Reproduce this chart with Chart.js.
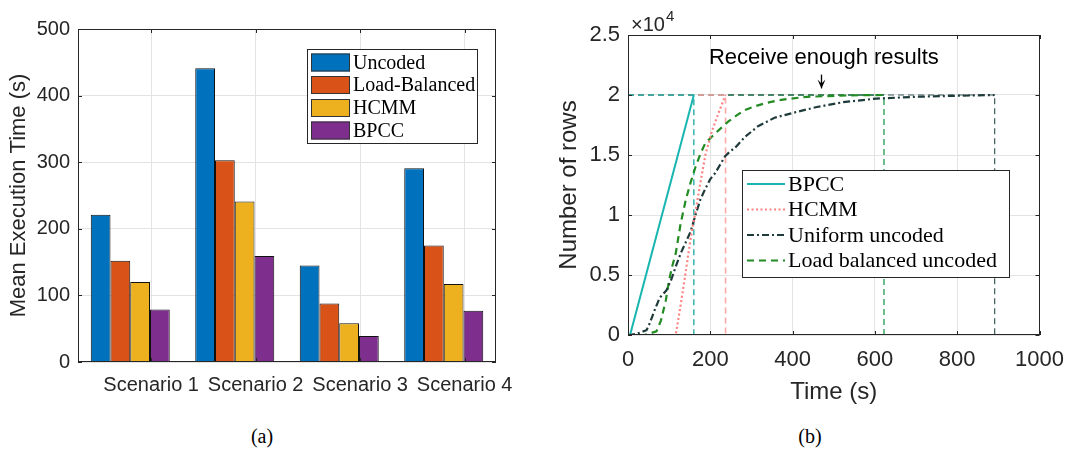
<!DOCTYPE html>
<html>
<head>
<meta charset="utf-8">
<script src="https://cdn.jsdelivr.net/npm/chart.js@4.4.0/dist/chart.umd.min.js"></script>
<style>
    body { margin: 0; background: #fff; }
    #wrap { position: relative; width: 1076px; height: 455px; overflow: hidden; }
    #barCanvas { position: absolute; left: 0; top: 0; }
    #rowCanvas { position: absolute; left: 540px; top: 0; }
    .caption { position: absolute; top: 425px; font: 20px "Liberation Serif", "Times New Roman", serif; color: #000; transform: translateX(-50%); }
</style>
</head>
<body>
<div id="wrap">
    <canvas id="barCanvas" width="540" height="420"></canvas>
    <canvas id="rowCanvas" width="536" height="420"></canvas>
    <div class="caption" style="left:262px">(a)</div>
    <div class="caption" style="left:810px">(b)</div>
</div>
<script>
// (a) mean execution time per scenario
const scenarioLabels = ['Scenario 1', 'Scenario 2', 'Scenario 3', 'Scenario 4'];
const scenarioTickPos = [1.2, 2.2, 3.2, 4.2];
const barNames = ['Uncoded', 'Load-Balanced', 'HCMM', 'BPCC'];
const uncodedTime = [221, 441, 145, 291];
const loadBalancedTime = [152, 303, 88, 175];
const hcmmTime = [120, 241, 58, 117];
const bpccTime = [79, 159, 39, 77];
const barColors = ['#0072BD', '#D95319', '#EDB120', '#7E2F8E'];

// (b) received rows over time
const lineNames = ['BPCC', 'HCMM', 'Uniform uncoded', 'Load balanced uncoded'];
const bpccT = [5, 160];
const bpccRows = [0, 20000];
const hcmmT = [0, 116, 128, 140, 152, 164, 176, 188, 204, 220, 237];
const hcmmRows = [0, 0, 2500, 5200, 8000, 10300, 12700, 15000, 17000, 18500, 20000];
const uniformT = [0, 21, 45, 53, 65, 77, 93, 105, 116, 128, 140, 152, 164, 176, 188, 200, 212, 224, 236, 248, 260, 284, 316, 356, 411, 459, 523, 603, 699, 778, 891];
const uniformRows = [0, 100, 400, 1000, 2100, 3100, 3700, 4600, 5700, 6800, 7700, 8600, 10000, 11300, 12200, 13000, 13500, 14200, 14900, 15300, 15600, 16500, 17400, 18100, 18600, 19000, 19400, 19700, 19850, 19920, 20000];
const loadT = [0, 40, 69, 80, 92, 100, 108, 116, 128, 140, 152, 164, 176, 188, 200, 212, 228, 244, 264, 284, 308, 332, 364, 396, 435, 475, 540, 622];
const loadRows = [0, 0, 300, 1200, 2900, 4600, 5800, 6800, 9300, 11200, 12700, 14000, 15100, 16000, 16400, 16800, 17300, 17800, 18300, 18750, 19050, 19300, 19550, 19700, 19850, 19900, 19970, 20000];
const finishT = [160, 237, 891, 622];
const targetRows = 20000;
const timeTicks = [0, 200, 400, 600, 800, 1000];
const rowTicks = [0, 5000, 10000, 15000, 20000, 25000];
const annotText = 'Receive enough results';
const annotX = 469;
const annotRows = [21700, 20550, 23100];  // arrow start, arrow tip, text

const lineColors = ['#19B5B0', '#FF8282', '#1F3B3B', '#228B22'];
const guideColors = ['#17A8A0', '#FFA8A8', '#3A5A5A', '#1E9A50'];

Chart.defaults.font.family = '"Liberation Sans", Arial, Helvetica, sans-serif';
Chart.defaults.color = '#262626';

const gridColor = '#e3e3e3';

function pairs(xs, ys) {
    return xs.map((x, i) => ({ x: x, y: ys[i] }));
}

// MATLAB style box with inward tick marks
function drawFrame(chart, xId, yId) {
    const ctx = chart.ctx;
    const a = chart.chartArea;
    const xs = chart.scales[xId], ys = chart.scales[yId];
    ctx.save();
    ctx.strokeStyle = '#262626';
    ctx.lineWidth = 1;
    ctx.strokeRect(Math.round(a.left) + 0.5, Math.round(a.top) + 0.5, Math.round(a.right - a.left) - 1, Math.round(a.bottom - a.top) - 1);
    ctx.beginPath();
    xs.ticks.forEach(t => {
        const px = Math.round(xs.getPixelForValue(t.value)) + 0.5;
        ctx.moveTo(px, a.bottom); ctx.lineTo(px, a.bottom - 4);
        ctx.moveTo(px, a.top); ctx.lineTo(px, a.top + 4);
    });
    ys.ticks.forEach(t => {
        const py = Math.round(ys.getPixelForValue(t.value)) + 0.5;
        ctx.moveTo(a.left, py); ctx.lineTo(a.left + 4, py);
        ctx.moveTo(a.right, py); ctx.lineTo(a.right - 4, py);
    });
    ctx.stroke();
    ctx.restore();
}

const barFramePlugin = {
    id: 'barFrame',
    afterDatasetsDraw(chart) {
        drawFrame(chart, 'xt', 'y');
        const ctx = chart.ctx;
        ctx.save();
        // legend
        ctx.fillStyle = '#fff';
        ctx.fillRect(307, 49, 170, 94);
        ctx.strokeStyle = '#262626';
        ctx.lineWidth = 1;
        ctx.strokeRect(307.5, 49.5, 170, 94);
        const rowsY = [62.5, 85, 108, 130.5];
        ctx.font = '20px "Liberation Serif", "Times New Roman", serif';
        ctx.textBaseline = 'middle';
        chart.data.datasets.forEach((ds, i) => {
            ctx.fillStyle = ds.backgroundColor;
            ctx.fillRect(311, rowsY[i] - 9, 39, 18);
            ctx.strokeStyle = '#333';
            ctx.strokeRect(311.5, rowsY[i] - 8.5, 38, 17);
            ctx.fillStyle = '#000';
            ctx.fillText(ds.label, 353, rowsY[i] + 1);
        });
        ctx.restore();
    }
};

new Chart(document.getElementById('barCanvas'), {
    type: 'bar',
    data: {
        labels: scenarioLabels,
        datasets: [uncodedTime, loadBalancedTime, hcmmTime, bpccTime].map((vals, i) => ({
            label: barNames[i],
            data: vals,
            backgroundColor: barColors[i],
            borderColor: '#111',
            borderWidth: 1,
            borderSkipped: 'bottom',
            categoryPercentage: 0.756,
            barPercentage: 1.0,
            xAxisID: 'x',
            yAxisID: 'y'
        }))
    },
    options: {
        responsive: false,
        animation: false,
        layout: { padding: { left: 0, top: 29, right: 44, bottom: 0 } },
        plugins: { legend: { display: false }, tooltip: { enabled: false } },
        scales: {
            x: { type: 'category', display: false },
            xt: {
                type: 'linear', position: 'bottom', min: 0.5, max: 4.5,
                offset: false,
                afterBuildTicks: s => { s.ticks = scenarioTickPos.map(v => ({ value: v })); },
                afterFit: s => { s.height = 58; },
                grid: { color: gridColor, drawTicks: false, offset: false },
                border: { display: false },
                ticks: {
                    autoSkip: false, maxRotation: 0, padding: 11,
                    font: { size: 20 },
                    callback: (v, i) => scenarioLabels[i]
                }
            },
            y: {
                min: 0, max: 500,
                afterFit: s => { s.width = 78; },
                grid: { color: gridColor, drawTicks: false },
                border: { display: false },
                ticks: { stepSize: 100, padding: 8, font: { size: 20 } },
                title: { display: true, text: 'Mean Execution Time (s)', font: { size: 22 }, padding: { top: 6, bottom: 0 } }
            }
        }
    },
    plugins: [barFramePlugin]
});

const rowFramePlugin = {
    id: 'rowFrame',
    afterDatasetsDraw(chart) {
        drawFrame(chart, 'x', 'y');
        const ctx = chart.ctx;
        const xs = chart.scales.x, ys = chart.scales.y;
        const a = chart.chartArea;
        ctx.save();
        // exponent label
        ctx.fillStyle = '#262626';
        ctx.textBaseline = 'alphabetic';
        ctx.font = '20px "Liberation Sans", Arial, sans-serif';
        ctx.fillText('\u00d710', a.left + 3, 31);
        const w = ctx.measureText('\u00d710').width;
        ctx.font = '15px "Liberation Sans", Arial, sans-serif';
        ctx.fillText('4', a.left + 3 + w + 1, 21);
        // annotation
        const ax = Math.round(xs.getPixelForValue(annotX)) + 0.5;
        const y0 = ys.getPixelForValue(annotRows[0]);
        const y1 = ys.getPixelForValue(annotRows[1]);
        ctx.font = '22px "Liberation Sans", Arial, sans-serif';
        ctx.textAlign = 'center';
        ctx.textBaseline = 'middle';
        ctx.fillStyle = '#000';
        ctx.fillText(annotText, xs.getPixelForValue(annotX + 7), ys.getPixelForValue(annotRows[2]));
        ctx.strokeStyle = '#000';
        ctx.lineWidth = 1.3;
        ctx.beginPath();
        ctx.moveTo(ax, y0); ctx.lineTo(ax, y1);
        ctx.stroke();
        ctx.beginPath();
        ctx.moveTo(ax - 4, y1 - 9); ctx.lineTo(ax, y1); ctx.lineTo(ax + 4, y1 - 9); ctx.lineTo(ax, y1 - 5); ctx.closePath();
        ctx.fillStyle = '#000';
        ctx.fill();
        // legend
        const bx = 202, by = 170, bw = 267, bh = 107;
        ctx.fillStyle = '#fff';
        ctx.fillRect(bx, by, bw, bh);
        ctx.strokeStyle = '#262626';
        ctx.lineWidth = 1;
        ctx.strokeRect(bx + 0.5, by + 0.5, bw, bh);
        const rowsY = [184, 209.5, 235, 260.5];
        ctx.textAlign = 'left';
        ctx.font = '22px "Liberation Serif", "Times New Roman", serif';
        lineNames.forEach((name, i) => {
            const ds = chart.data.datasets[i];
            ctx.strokeStyle = ds.borderColor;
            ctx.lineWidth = ds.borderWidth;
            ctx.setLineDash(ds.borderDash || []);
            ctx.beginPath();
            ctx.moveTo(207, rowsY[i]); ctx.lineTo(245, rowsY[i]);
            ctx.stroke();
            ctx.setLineDash([]);
            ctx.fillStyle = '#000';
            ctx.fillText(name, 248, rowsY[i] + 1);
        });
        ctx.restore();
    }
};

const curveData = [pairs(bpccT, bpccRows), pairs(hcmmT, hcmmRows), pairs(uniformT, uniformRows), pairs(loadT, loadRows)];
const curveDash = [[], [2, 2.5], [7, 3, 2, 3], [7, 5]];
const guideWidth = [1.3, 1.6, 1.2, 1.3];

const rowDatasets = curveData.map((d, i) => ({
    label: lineNames[i],
    data: d,
    borderColor: lineColors[i],
    borderWidth: i === 0 ? 2 : 2.2,
    borderDash: curveDash[i],
    pointRadius: 0,
    tension: 0,
    fill: false
}));
finishT.forEach((t, i) => {
    rowDatasets.push({
        label: 'guide ' + lineNames[i],
        data: [{ x: 0, y: targetRows }, { x: t, y: targetRows }, { x: t, y: 0 }],
        borderColor: guideColors[i],
        borderWidth: guideWidth[i],
        borderDash: [6, 4],
        pointRadius: 0,
        tension: 0,
        fill: false
    });
});

new Chart(document.getElementById('rowCanvas'), {
    type: 'line',
    data: { datasets: rowDatasets },
    options: {
        responsive: false,
        animation: false,
        layout: { padding: { left: 0, top: 35, right: 30, bottom: 0 } },
        plugins: { legend: { display: false }, tooltip: { enabled: false } },
        scales: {
            x: {
                type: 'linear', min: 0, max: 1000,
                afterBuildTicks: s => { s.ticks = timeTicks.map(v => ({ value: v })); },
                afterFit: s => { s.height = 85; },
                grid: { color: gridColor, drawTicks: false },
                border: { display: false },
                ticks: { padding: 12, font: { size: 22 }, maxRotation: 0, callback: v => String(v) },
                title: { display: true, text: 'Time (s)', font: { size: 24 }, padding: { top: 0, bottom: 13 } }
            },
            y: {
                type: 'linear', min: 0, max: 25000,
                afterBuildTicks: s => { s.ticks = rowTicks.map(v => ({ value: v })); },
                afterFit: s => { s.width = 88; },
                grid: { color: gridColor, drawTicks: false },
                border: { display: false },
                ticks: { padding: 8, font: { size: 22 }, callback: v => String(v / 10000) },
                title: { display: true, text: 'Number of rows', font: { size: 24 }, padding: { top: 15, bottom: 0 } }
            }
        }
    },
    plugins: [rowFramePlugin]
});
</script>
</body>
</html>
